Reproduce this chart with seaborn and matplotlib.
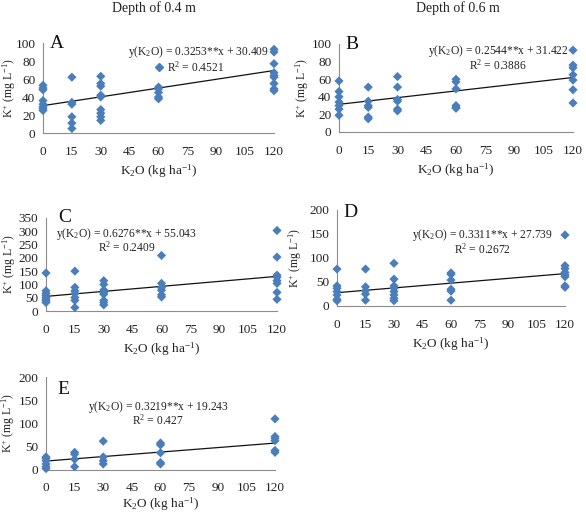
import matplotlib
matplotlib.use("Agg")
import matplotlib.pyplot as plt
import seaborn as sns
import pandas as pd

sns.set_theme(style="white")
plt.rcParams['font.family'] = ['Liberation Serif', 'DejaVu Serif']
plt.rcParams['mathtext.fontset'] = 'custom'
plt.rcParams['mathtext.rm'] = 'Liberation Serif'
plt.rcParams['mathtext.it'] = 'Liberation Serif:italic'
plt.rcParams['mathtext.bf'] = 'Liberation Serif:bold'

# ---------------- data ----------------
doses = [0, 15, 30, 60, 120]

a_0 = [53, 50, 48, 36, 32, 29, 27, 25]
a_15 = [62, 34, 32, 18, 11, 5]
a_30 = [63, 55, 52, 42, 40, 26, 22, 18, 14]
a_60 = [51, 49, 45, 40, 38]
a_120 = [93, 90, 77, 67, 64, 62, 55, 49, 47]

b_0 = [58, 46, 40, 34, 30, 26, 19]
b_15 = [51, 35, 30, 28, 17, 15]
b_30 = [63, 51, 37, 35, 26, 24]
b_60 = [60, 57, 49, 30, 28, 27]
b_120 = [93, 76, 73, 65, 59, 48, 33]

c_0 = [143, 76, 66, 58, 51, 44, 38, 32]
c_15 = [150, 89, 76, 66, 51, 40, 13]
c_30 = [114, 100, 79, 70, 63, 40, 32, 23]
c_60 = [209, 104, 88, 78, 61, 53]
c_120 = [303, 203, 135, 127, 114, 104, 70, 44]

d_0 = [77, 42, 37, 30, 23, 14, 11]
d_15 = [77, 40, 32, 25, 12]
d_30 = [89, 56, 42, 37, 30, 23, 16, 11]
d_60 = [69, 66, 54, 35, 31, 12]
d_120 = [148, 84, 78, 70, 65, 61, 42, 39]

e_0 = [28, 25, 20, 13, 7, 3]
e_15 = [38, 34, 23, 7]
e_30 = [62, 28, 20, 13]
e_60 = [58, 54, 37, 16, 13]
e_120 = [110, 72, 68, 63, 42, 38]

panel_letters = ['A', 'B', 'C', 'D', 'E']
slopes = [0.3253, 0.2544, 0.6276, 0.3311, 0.3219]
intercepts = [30.409, 31.422, 55.043, 27.739, 19.243]
eq_texts = ['0.3253**x + 30.409', '0.2544**x + 31.422', '0.6276**x + 55.043',
            '0.3311**x + 27.739', '0.3219**x + 19.243']
r2_texts = ['0.4521', '0.3886', '0.2409', '0.2672', '0.427']
y_maxes = [100, 100, 350, 200, 200]
y_steps = [20, 20, 50, 50, 50]
x_ticks = [0, 15, 30, 45, 60, 75, 90, 105, 120]
titles = ['Depth of 0.4 m', 'Depth of 0.6 m']

panel_data = [
    [a_0, a_15, a_30, a_60, a_120],
    [b_0, b_15, b_30, b_60, b_120],
    [c_0, c_15, c_30, c_60, c_120],
    [d_0, d_15, d_30, d_60, d_120],
    [e_0, e_15, e_30, e_60, e_120],
]

# ---------------- layout ----------------
W, H = 586, 512
boxes = [  # left, top, right, bottom in pixels
    (43, 43, 274, 133),
    (339, 44, 573, 132),
    (46, 218, 277, 311),
    (337, 210, 565, 306),
    (46, 377, 275, 470),
]
letter_pos = [(0.06, 0.99), (0.055, 0.99), (0.08, 1.0), (0.057, 0.97), (0.074, 0.87)]
eq_pos = [(0.675, 0.90), (0.68, 0.92), (0.35, 0.83), (0.64, 0.74), (0.49, 0.68)]
r2_pos = [(0.66, 0.73), (0.68, 0.76), (0.35, 0.68), (0.64, 0.59), (0.49, 0.53)]
ylab_x = [-0.108, -0.12, -0.121, -0.145, -0.127]
xlab_pad = [3, 3, 3, 3, 1]
xtick_pad = [6, 6, 6, 6, 5]

blue = '#4a7ebb'
spine_c = '#8c8c8c'

fig = plt.figure(figsize=(W / 100, H / 100), dpi=100)
fig.patch.set_facecolor('white')

for i in range(5):
    l, t, r, b = boxes[i]
    ax = fig.add_axes([l / W, 1 - b / H, (r - l) / W, (b - t) / H])
    rows = []
    for d, vals in zip(doses, panel_data[i]):
        for v in vals:
            rows.append({'dose': d, 'K': v})
    df = pd.DataFrame(rows)
    sns.scatterplot(data=df, x='dose', y='K', ax=ax, marker='D', s=22,
                    color=blue, edgecolor='none', linewidth=0, zorder=3, clip_on=False)
    fit = pd.DataFrame({'dose': [0, 120]})
    fit['K'] = slopes[i] * fit['dose'] + intercepts[i]
    sns.lineplot(data=fit, x='dose', y='K', ax=ax, color='#111111', linewidth=0.9, zorder=2)

    ax.set_xlim(0, 120)
    ax.set_ylim(0, y_maxes[i])
    ax.set_xticks(x_ticks)
    ax.set_yticks(list(range(0, y_maxes[i] + 1, y_steps[i])))
    for s in ['top', 'right']:
        ax.spines[s].set_visible(False)
    for s in ['left', 'bottom']:
        ax.spines[s].set_color(spine_c)
        ax.spines[s].set_linewidth(0.8)
    ax.tick_params(axis='both', which='both', direction='out', length=3.5, width=0.8,
                   color=spine_c, labelsize=9.5, labelcolor='#222222', pad=2)
    ax.tick_params(axis='x', pad=xtick_pad[i])
    ax.set_facecolor('white')
    ax.set_xlabel(r'K$_2$O (kg ha$^{-1}$)', fontsize=9.5, labelpad=xlab_pad[i], color='#222222')
    ax.set_ylabel(r'K$^{+}$ (mg L$^{-1}$)', fontsize=8.5, color='#222222')
    ax.yaxis.set_label_coords(ylab_x[i], 0.5)
    ax.text(*letter_pos[i], panel_letters[i], transform=ax.transAxes, fontsize=14,
            ha='center', va='center', color='#111111')
    ax.text(*eq_pos[i], 'y(K$_2$O) = ' + eq_texts[i], transform=ax.transAxes,
            fontsize=8.3, ha='center', va='center', color='#222222')
    ax.text(*r2_pos[i], 'R$^2$ = ' + r2_texts[i], transform=ax.transAxes,
            fontsize=8.3, ha='center', va='center', color='#222222')
    if i == 0:
        ax.plot([0.50], [0.73], marker='D', markersize=4.5, color=blue,
                transform=ax.transAxes, linestyle='none', clip_on=False)

fig.text(154 / W, 1 - 8 / H, titles[0], fontsize=10, ha='center', va='center', color='#222222')
fig.text(458 / W, 1 - 8 / H, titles[1], fontsize=10, ha='center', va='center', color='#222222')

fig.savefig('out.png', dpi=100, facecolor='white')
